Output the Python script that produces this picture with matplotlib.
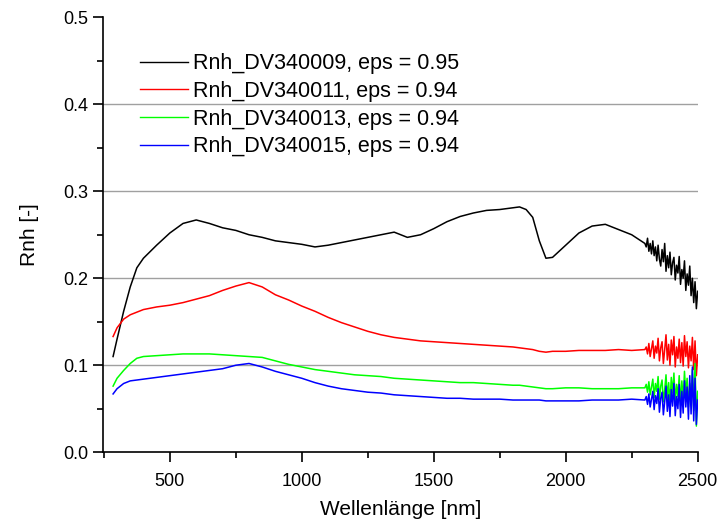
# Rnh spectra of four DV samples – Origin-style line plot

import matplotlib.pyplot as plt
from matplotlib.ticker import MultipleLocator

plt.rcParams['font.family'] = ['Liberation Sans', 'DejaVu Sans']

# Wavelength grid [nm]: smooth part, then the noisy tail every 5 nm
wavelength = [285, 300, 325, 350, 375, 400, 450, 500, 550, 600, 650, 700, 750, 800,
              850, 900, 950, 1000, 1050, 1100, 1150, 1200, 1250, 1300, 1350, 1400,
              1450, 1500, 1550, 1600, 1650, 1700, 1750, 1800, 1825, 1850, 1875, 1900,
              1925, 1950, 2000, 2050, 2100, 2150, 2200, 2250, 2300]
wavelength += list(range(2305, 2501, 5))

rnh_009 = [0.110, 0.130, 0.162, 0.190, 0.212, 0.223, 0.238, 0.252, 0.263, 0.267, 0.263,
           0.258, 0.255, 0.250, 0.247, 0.243, 0.241, 0.239, 0.236, 0.238, 0.241, 0.244,
           0.247, 0.250, 0.253, 0.247, 0.250, 0.257, 0.265, 0.271, 0.275, 0.278, 0.279,
           0.281, 0.282, 0.279, 0.270, 0.243, 0.223, 0.224, 0.238, 0.252, 0.260, 0.262,
           0.256, 0.250, 0.240,
           0.236, 0.246, 0.231, 0.240, 0.228, 0.243, 0.226, 0.236, 0.220, 0.238,
           0.222, 0.214, 0.233, 0.219, 0.240, 0.208, 0.226, 0.212, 0.230, 0.204,
           0.218, 0.224, 0.198, 0.215, 0.206, 0.225, 0.193, 0.210, 0.200, 0.220,
           0.186, 0.205, 0.192, 0.214, 0.180, 0.200, 0.172, 0.196, 0.165, 0.185]

rnh_011 = [0.133, 0.143, 0.153, 0.158, 0.161, 0.164, 0.167, 0.169, 0.172, 0.176, 0.180,
           0.186, 0.191, 0.195, 0.190, 0.181, 0.175, 0.168, 0.162, 0.155, 0.149, 0.144,
           0.139, 0.135, 0.132, 0.130, 0.128, 0.127, 0.126, 0.125, 0.124, 0.123, 0.122,
           0.121, 0.120, 0.119, 0.118, 0.116, 0.115, 0.116, 0.116, 0.117, 0.117, 0.117,
           0.118, 0.117, 0.118,
           0.121, 0.113, 0.125, 0.110, 0.119, 0.128, 0.108, 0.122, 0.114, 0.131,
           0.105, 0.120, 0.127, 0.102, 0.118, 0.135, 0.106, 0.124, 0.100, 0.129,
           0.112, 0.133, 0.098, 0.121, 0.108, 0.130, 0.103, 0.126, 0.099, 0.134,
           0.110, 0.127, 0.097, 0.122, 0.105, 0.132, 0.095, 0.128, 0.088, 0.112]

rnh_013 = [0.076, 0.085, 0.094, 0.102, 0.108, 0.110, 0.111, 0.112, 0.113, 0.113, 0.113,
           0.112, 0.111, 0.110, 0.109, 0.105, 0.101, 0.098, 0.095, 0.093, 0.091, 0.089,
           0.088, 0.087, 0.085, 0.084, 0.083, 0.082, 0.081, 0.080, 0.080, 0.079, 0.078,
           0.077, 0.077, 0.076, 0.075, 0.074, 0.073, 0.073, 0.074, 0.074, 0.073, 0.073,
           0.073, 0.074, 0.074,
           0.078, 0.069, 0.081, 0.066, 0.075, 0.084, 0.063, 0.079, 0.070, 0.087,
           0.061, 0.076, 0.083, 0.058, 0.072, 0.089, 0.062, 0.080, 0.056, 0.086,
           0.068, 0.091, 0.057, 0.078, 0.064, 0.088, 0.055, 0.082, 0.060, 0.093,
           0.066, 0.085, 0.052, 0.079, 0.058, 0.095, 0.048, 0.102, 0.030, 0.070]

rnh_015 = [0.067, 0.073, 0.079, 0.082, 0.083, 0.084, 0.086, 0.088, 0.090, 0.092, 0.094,
           0.096, 0.100, 0.102, 0.098, 0.093, 0.089, 0.085, 0.080, 0.076, 0.073, 0.071,
           0.069, 0.068, 0.066, 0.065, 0.064, 0.063, 0.062, 0.062, 0.061, 0.061, 0.061,
           0.060, 0.060, 0.060, 0.060, 0.060, 0.059, 0.059, 0.059, 0.059, 0.060, 0.060,
           0.060, 0.061, 0.060,
           0.064, 0.055, 0.067, 0.052, 0.061, 0.070, 0.049, 0.065, 0.056, 0.073,
           0.046, 0.062, 0.069, 0.043, 0.058, 0.076, 0.047, 0.066, 0.041, 0.072,
           0.053, 0.079, 0.042, 0.064, 0.050, 0.078, 0.040, 0.070, 0.045, 0.082,
           0.052, 0.075, 0.038, 0.088, 0.044, 0.098, 0.036, 0.085, 0.032, 0.060]

labels = ['Rnh_DV340009, eps = 0.95', 'Rnh_DV340011, eps = 0.94',
          'Rnh_DV340013, eps = 0.94', 'Rnh_DV340015, eps = 0.94']
colors = ['black', 'red', '#00ff00', 'blue']

fig = plt.figure(figsize=(7.2, 5.24), dpi=100)
ax = fig.add_axes([0.1435, 0.137, 0.8255, 0.830])

# gray horizontal grid lines
for y in [0.1, 0.2, 0.3, 0.4]:
    ax.axhline(y, color='#a0a0a0', lw=1.0, zorder=0)

for series, lab, col in zip([rnh_009, rnh_011, rnh_013, rnh_015], labels, colors):
    ax.plot(wavelength, series, color=col, lw=1.1, label=lab)

ax.set_xlim(248, 2500)
ax.set_ylim(0, 0.5)
ax.xaxis.set_major_locator(MultipleLocator(500))
ax.xaxis.set_minor_locator(MultipleLocator(250))
ax.yaxis.set_major_locator(MultipleLocator(0.1))
ax.yaxis.set_minor_locator(MultipleLocator(0.05))
ax.yaxis.set_major_formatter(plt.FormatStrFormatter('%.1f'))

for side in ['top', 'right']:
    ax.spines[side].set_visible(False)
for side in ['left', 'bottom']:
    ax.spines[side].set_linewidth(1.2)

ax.tick_params(which='major', direction='out', length=7, width=1.2, labelsize=13)
ax.tick_params(which='minor', direction='out', length=4, width=1.2)
ax.tick_params(axis='x', pad=8)

ax.set_xlabel('Wellenlänge [nm]', fontsize=15, labelpad=7)
ax.set_ylabel('Rnh [-]', fontsize=15, labelpad=18)

leg = ax.legend(loc='upper left', bbox_to_anchor=(0.048, 0.937), frameon=False,
                fontsize=15.5, handlelength=2.23, handletextpad=0.19, labelspacing=0.31,
                borderaxespad=0)
for line in leg.get_lines():
    line.set_linewidth(1.0)

plt.savefig('out.png', dpi=100)
